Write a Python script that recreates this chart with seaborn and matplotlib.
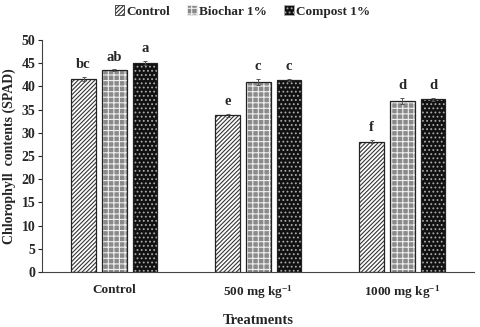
import numpy as np
import pandas as pd
import matplotlib
matplotlib.use("Agg")
import matplotlib.pyplot as plt
from matplotlib.patches import Patch, Rectangle
import seaborn as sns

# data
treatments = ["Control", "500 mg kg$^{-1}$", "1000 mg kg$^{-1}$"]
amendments = ["Control", "Biochar 1%", "Compost 1%"]
control_vals = [41.6, 33.8, 28.1]
biochar_vals = [43.5, 40.9, 36.9]
compost_vals = [45.0, 41.4, 37.2]
control_err = [0.5, 0.3, 0.4]
biochar_err = [0.2, 0.7, 0.6]
compost_err = [0.5, 0.2, 0.3]
control_letters = ["bc", "e", "f"]
biochar_letters = ["ab", "c", "d"]
compost_letters = ["a", "c", "d"]

sns.set_style("white")
plt.rcParams["font.family"] = ["Liberation Serif", "DejaVu Serif"]
plt.rcParams["font.weight"] = "bold"
plt.rcParams["mathtext.fontset"] = "custom"
plt.rcParams["mathtext.rm"] = "Liberation Serif:bold"
plt.rcParams["mathtext.it"] = "Liberation Serif:bold"
plt.rcParams["hatch.linewidth"] = 0.8

rows = []
for amend, vals, errs, lets in [(amendments[0], control_vals, control_err, control_letters),
                                (amendments[1], biochar_vals, biochar_err, biochar_letters),
                                (amendments[2], compost_vals, compost_err, compost_letters)]:
    for t, v, e, l in zip(treatments, vals, errs, lets):
        rows.append({"treatment": t, "amendment": amend, "value": v, "err": e, "letter": l})
df = pd.DataFrame(rows)

fig, ax = plt.subplots(figsize=(4.8, 3.27), dpi=100)
sns.barplot(data=df, x="treatment", y="value", hue="amendment", order=treatments,
            hue_order=amendments, errorbar=None, width=0.64, gap=0.2, legend=False, ax=ax)

styles = {
    "Control": dict(face="white", hatch="////////", hcol="#333333"),
    "Biochar 1%": dict(face="#8a8a8a", hatch="+++", hcol="#eeeeee"),
    "Compost 1%": dict(face="#111111", hatch="....", hcol="#aaaaaa"),
}

for i, amend in enumerate(amendments):
    cont = ax.containers[i]
    sub = df[df.amendment == amend].set_index("treatment").loc[treatments]
    st = styles[amend]
    for bar, (_, r) in zip(cont, sub.iterrows()):
        bar.set_facecolor(st["face"])
        bar.set_hatch(st["hatch"])
        bar.set_edgecolor(st["hcol"])
        bar.set_linewidth(0)
        ax.add_patch(Rectangle((bar.get_x(), 0), bar.get_width(), bar.get_height(),
                               fill=False, edgecolor="#222222", lw=0.9, zorder=3))
        xc = bar.get_x() + bar.get_width() / 2
        ax.errorbar(xc, r["value"], yerr=r["err"], fmt="none", ecolor="#555555",
                    elinewidth=0.7, capsize=1.5, capthick=0.7, zorder=4)
        ax.text(xc, r["value"] + r["err"] + 1.2, r["letter"], ha="center", va="bottom",
                fontsize=10.5, fontweight="bold")

ax.set_ylim(0, 50)
ax.set_yticks(range(0, 51, 5))
ax.set_xlim(-0.5, 2.5)
ax.set_ylabel("Chlorophyll  contents (SPAD)", fontsize=10, fontweight="bold")
ax.set_xlabel("Treatments", fontsize=10.5, fontweight="bold", labelpad=9)
ax.tick_params(axis="y", left=True, length=3, width=0.8, labelsize=10, pad=2)
ax.tick_params(axis="x", bottom=False, labelsize=9.5, pad=5)
for lab in ax.get_xticklabels() + ax.get_yticklabels():
    lab.set_fontweight("bold")
sns.despine(ax=ax)
ax.spines["left"].set_color("#444444")
ax.spines["bottom"].set_color("#444444")

handles = [Patch(facecolor=styles[a]["face"], hatch=styles[a]["hatch"],
                 edgecolor=styles[a]["hcol"], label=a) for a in amendments]
leg = fig.legend(handles=handles, loc="upper center", bbox_to_anchor=(0.505, 1.02), ncol=3,
                 frameon=False, fontsize=9.5, handlelength=0.75, handleheight=0.75,
                 handletextpad=0.15, columnspacing=1.3)
for h in leg.legend_handles:
    h.set_linewidth(0.6)

fig.subplots_adjust(left=0.088, right=0.988, bottom=0.168, top=0.878)
fig.savefig("out.png", dpi=100)
